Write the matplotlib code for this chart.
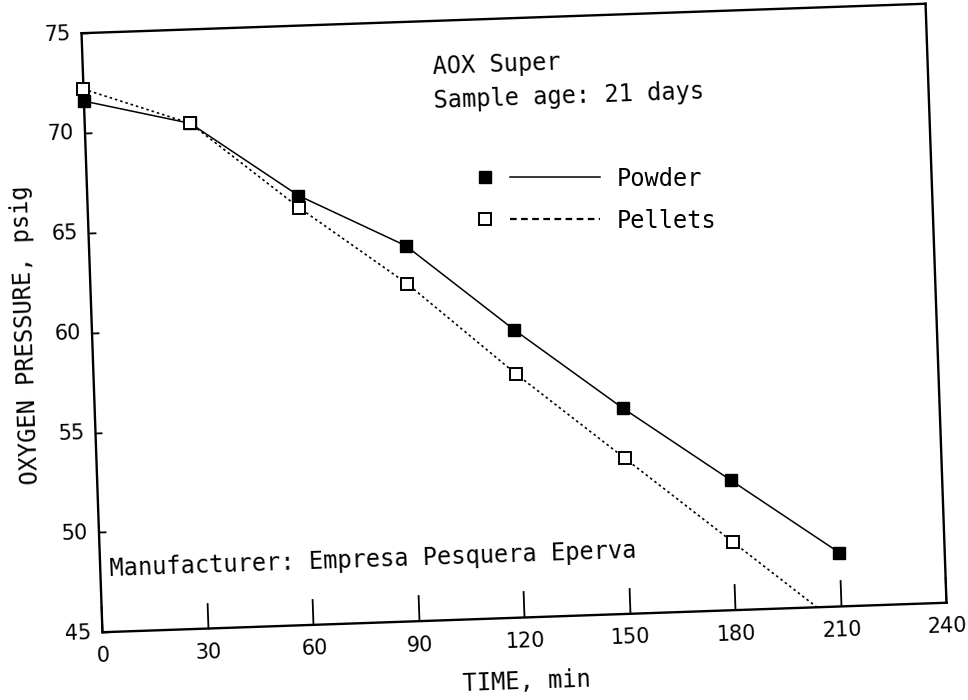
import numpy as np
import matplotlib
matplotlib.use("Agg")
import matplotlib.pyplot as plt
from matplotlib.transforms import Affine2D
from matplotlib.lines import Line2D
from matplotlib.legend_handler import HandlerTuple
import mpl_toolkits.axisartist.floating_axes as floating_axes
from mpl_toolkits.axisartist.grid_finder import FixedLocator, DictFormatter

# Oxygen bomb test: pressure decay over time for two product forms
time_min = [0, 30, 60, 90, 120, 150, 180, 210]
powder_psig = [71.6, 70.3, 66.5, 63.8, 59.4, 55.3, 51.5, 47.7]
pellets_psig = [72.2, 70.3, 65.9, 61.9, 57.2, 52.8, 48.4, 44.0]

x_ticks = [0, 30, 60, 90, 120, 150, 180, 210, 240]
y_ticks = [45, 50, 55, 60, 65, 70, 75]
series_labels = ["Powder", "Pellets"]

product_title = "AOX Super"
sample_note = "Sample age: 21 days"
maker_note = "Manufacturer: Empresa Pesquera Eperva"
x_label = "TIME, min"
y_label = "OXYGEN PRESSURE, psig"

MONO = "DejaVu Sans Mono"
TEXT_SIZE = 17
TILT = 2.0  # the printed page sits slightly askew

fig = plt.figure(figsize=(9.68, 7.0), dpi=100)
fig.patch.set_facecolor("white")

# minutes / psig mapped onto a slightly tilted frame
tr = (Affine2D()
      .translate(0, -y_ticks[0])
      .scale(3.519, 19.98)
      .rotate_deg(TILT))
grid_helper = floating_axes.GridHelperCurveLinear(
    tr,
    extremes=(x_ticks[0], x_ticks[-1], y_ticks[0], y_ticks[-1]),
    grid_locator1=FixedLocator(x_ticks),
    grid_locator2=FixedLocator(y_ticks),
    tick_formatter1=DictFormatter({v: str(v) for v in x_ticks}),
    tick_formatter2=DictFormatter({v: str(v) for v in y_ticks}),
)
ax = fig.add_axes([0.0753, 0.0878, 0.9114, 0.9159],
                  axes_class=floating_axes.FloatingAxes,
                  grid_helper=grid_helper)
aux = ax.get_aux_axes(tr)
aux.patch = ax.patch
ax.patch.zorder = 0.9

# frame and ticks
for side in ["left", "right", "bottom", "top"]:
    ax.axis[side].line.set_linewidth(1.7)
    ax.axis[side].line.set_color("black")
for side in ["top", "right"]:
    ax.axis[side].toggle(ticks=False, ticklabels=False, label=False)

ax.axis["bottom"].major_ticks.set_ticksize(19)
ax.axis["left"].major_ticks.set_ticksize(5)
for side in ["bottom", "left"]:
    art = ax.axis[side]
    art.major_ticks.set_tick_out(False)
    art.major_ticks.set_markeredgewidth(1.3)
    art.major_ticks.set_color("black")
    art.major_ticklabels.set_fontsize(15)
    art.major_ticklabels.set_fontfamily("DejaVu Sans")
    art.label.set_fontsize(TEXT_SIZE)
    art.label.set_fontfamily(MONO)
    art.toggle(ticklabels=True, label=True)
ax.axis["bottom"].major_ticklabels.set_pad(10)
ax.axis["left"].major_ticklabels.set_pad(8)
ax.axis["bottom"].label.set_text(x_label)
ax.axis["left"].label.set_text(y_label)
ax.axis["bottom"].label.set_pad(16)
ax.axis["left"].label.set_pad(12)

# data
t = np.asarray(time_min, dtype=float)
powder = np.asarray(powder_psig, dtype=float)
pellets = np.asarray(pellets_psig, dtype=float)

aux.plot(t, powder, color="black", lw=1.1, zorder=2)
aux.plot(t, pellets, color="black", lw=1.2, linestyle=(0, (1.5, 1.8)), zorder=2)

aux.plot(t, powder, ls="none", marker="s", ms=8, mfc="black", mec="black",
         clip_on=False, zorder=3)
shown = pellets >= y_ticks[0]
aux.plot(t[shown], pellets[shown], ls="none", marker="s", ms=8.5, mfc="white",
         mec="black", mew=1.4, clip_on=False, zorder=4)

# annotations
text_kw = dict(rotation=TILT, rotation_mode="anchor", ha="left", va="baseline",
               fontsize=TEXT_SIZE, family=MONO, color="black")
aux.text(99.5, 72.36, product_title, **text_kw)
aux.text(99.2, 70.66, sample_note, **text_kw)
aux.text(2.6, 47.8, maker_note, **text_kw)

# legend: marker followed by a line sample
em = TEXT_SIZE * 100 / 72.0
powder_key = (Line2D([], [], ls="none", marker="s", ms=8, mfc="black", mec="black"),
              Line2D([], [], color="black", lw=1.1))
pellets_key = (Line2D([], [], ls="none", marker="s", ms=8.5, mfc="white",
                      mec="black", mew=1.4),
               Line2D([], [], color="black", lw=1.6, ls=(0, (3, 2))))
fig.legend([powder_key, pellets_key], series_labels,
           handler_map={tuple: HandlerTuple(ndivide=2, pad=-20 / em)},
           loc="upper left", bbox_to_anchor=(440 / 968, 1 - 166.5 / 700),
           frameon=False, borderpad=0, borderaxespad=0,
           handlelength=160 / em, handletextpad=17 / em, labelspacing=0.77,
           prop=dict(family=MONO, size=TEXT_SIZE))

fig.savefig("out.png", dpi=100, facecolor="white")
